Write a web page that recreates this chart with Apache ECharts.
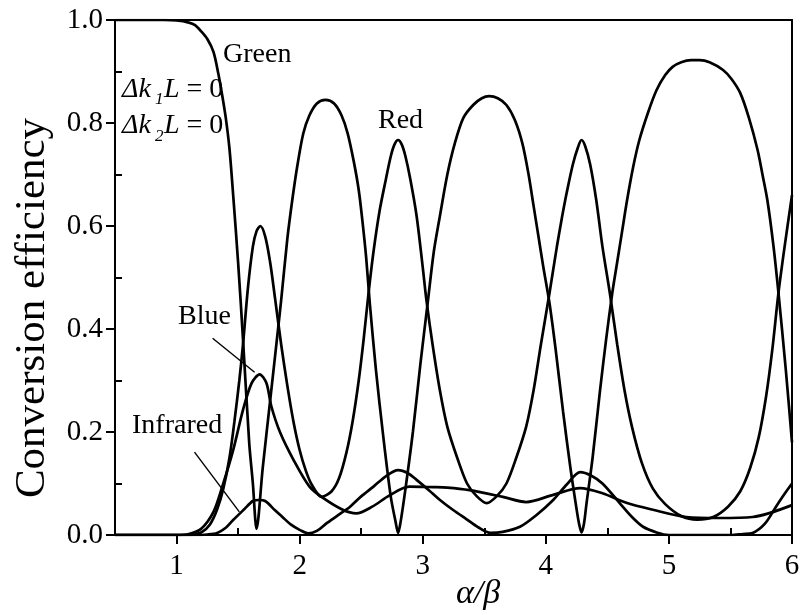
<!DOCTYPE html>
<html>
<head>
<meta charset="utf-8">
<script src="https://cdn.jsdelivr.net/npm/echarts@6/dist/echarts.min.js"></script>
<style>html,body{margin:0;padding:0;background:#fff}#c{width:801px;height:615px}</style>
</head>
<body>
<div id="c"></div>
<script>
// ---- data ----
var greenX = [0.5,0.9,1.0,1.1,1.15,1.2,1.25,1.3,1.34,1.37,1.4,1.43,1.46,1.5,1.54,1.59,1.62,1.65,1.7,1.76,1.82,1.85,1.9,1.94,1.98,2.03,2.08,2.14,2.21,2.28,2.34,2.39,2.44,2.48,2.51,2.54,2.57,2.62,2.68,2.74,2.78,2.8,2.82,2.86,2.92,2.98,3.04,3.09,3.14,3.2,3.26,3.33,3.41,3.48,3.54,3.61,3.68,3.75,3.81,3.86,3.9,3.94,3.98,4.03,4.08,4.14,4.2,4.25,4.27,4.29,4.31,4.33,4.38,4.44,4.49,4.54,4.58,4.62,4.66,4.71,4.76,4.83,4.9,4.97,5.03,5.1,5.18,5.25,5.33,5.44,5.51,5.58,5.65,5.72,5.76,5.8,5.85,5.89,5.95,6.0];
var greenY = [1.0,1.0,0.999,0.995,0.99,0.978,0.963,0.938,0.895,0.855,0.81,0.75,0.66,0.53,0.38,0.18,0.1,0.012,0.13,0.26,0.39,0.456,0.575,0.65,0.715,0.78,0.815,0.838,0.845,0.838,0.815,0.78,0.725,0.67,0.61,0.54,0.45,0.32,0.19,0.075,0.025,0.004,0.025,0.09,0.2,0.33,0.45,0.55,0.62,0.7,0.76,0.81,0.835,0.848,0.852,0.848,0.835,0.805,0.76,0.7,0.64,0.58,0.52,0.45,0.36,0.24,0.13,0.05,0.022,0.005,0.022,0.06,0.15,0.28,0.38,0.47,0.53,0.59,0.65,0.715,0.767,0.82,0.864,0.893,0.909,0.918,0.922,0.922,0.918,0.903,0.885,0.858,0.81,0.748,0.7,0.65,0.56,0.47,0.32,0.18];

var redX = [0.5,1.1,1.2,1.27,1.33,1.38,1.43,1.47,1.51,1.54,1.58,1.62,1.65,1.68,1.72,1.76,1.8,1.85,1.9,1.95,2.0,2.05,2.1,2.18,2.26,2.32,2.38,2.43,2.48,2.52,2.56,2.6,2.65,2.7,2.74,2.77,2.8,2.83,2.86,2.9,2.95,3.0,3.03,3.08,3.14,3.2,3.28,3.36,3.44,3.52,3.6,3.68,3.76,3.84,3.9,3.96,4.03,4.09,4.13,4.17,4.22,4.26,4.29,4.32,4.36,4.41,4.46,4.52,4.58,4.64,4.7,4.78,4.87,4.97,5.1,5.23,5.36,5.48,5.58,5.66,5.73,5.79,5.84,5.89,5.94,6.0];
var redY = [0,0,0.005,0.02,0.05,0.09,0.15,0.22,0.3,0.37,0.48,0.56,0.59,0.6,0.58,0.53,0.46,0.37,0.29,0.22,0.165,0.125,0.097,0.074,0.085,0.11,0.16,0.22,0.3,0.38,0.47,0.55,0.63,0.69,0.735,0.758,0.767,0.758,0.735,0.69,0.62,0.52,0.456,0.37,0.28,0.21,0.15,0.1,0.075,0.062,0.075,0.1,0.15,0.21,0.28,0.37,0.47,0.56,0.615,0.665,0.72,0.752,0.767,0.755,0.72,0.65,0.56,0.47,0.37,0.28,0.21,0.14,0.09,0.06,0.037,0.03,0.035,0.055,0.085,0.13,0.19,0.27,0.36,0.47,0.56,0.66];

var blueX = [0.5,1.0,1.1,1.2,1.3,1.37,1.46,1.54,1.61,1.675,1.73,1.77,1.84,1.95,2.08,2.19,2.35,2.46,2.59,2.73,2.89,3.08,3.2,3.38,3.65,3.84,4.06,4.28,4.46,4.66,4.87,5.14,5.41,5.68,6.0];
var blueY = [0,0,0.002,0.012,0.045,0.093,0.165,0.243,0.295,0.312,0.295,0.25,0.2,0.146,0.094,0.072,0.049,0.042,0.055,0.077,0.094,0.093,0.092,0.087,0.074,0.064,0.078,0.091,0.081,0.062,0.049,0.035,0.033,0.035,0.058];

var infraX = [0.5,1.15,1.25,1.33,1.4,1.46,1.55,1.62,1.67,1.72,1.8,1.86,1.93,2.0,2.07,2.14,2.22,2.31,2.41,2.5,2.6,2.7,2.8,2.88,2.95,3.05,3.14,3.25,3.36,3.45,3.55,3.65,3.79,3.92,4.06,4.17,4.28,4.37,4.46,4.6,4.7,4.79,4.9,5.0,5.5,5.6,5.68,5.78,5.87,5.94,6.0];
var infraY = [0,0,0.001,0.004,0.014,0.029,0.05,0.066,0.068,0.066,0.048,0.035,0.02,0.01,0.003,0.008,0.023,0.038,0.055,0.075,0.094,0.114,0.126,0.12,0.107,0.087,0.068,0.048,0.03,0.015,0.004,0.006,0.016,0.038,0.068,0.098,0.122,0.115,0.1,0.062,0.035,0.016,0.005,0,0,0.002,0.004,0.022,0.055,0.08,0.1];

var xTickLabels = [1,2,3,4,5,6];
var xMinorTicks = [1.5,2.5,3.5,4.5,5.5];
var yTickLabels = [0,0.2,0.4,0.6,0.8,1.0];
var yMinorTicks = [0.1,0.3,0.5,0.7,0.9];

var blueArrow = [[1.634,0.316],[1.293,0.382]];
var infraArrow = [[1.51,0.045],[1.146,0.161]];

// ---- chart ----
var SERIF = '"Liberation Serif","DejaVu Serif",serif';
function pairs(xs, ys){ return xs.map(function(x,i){ return [x, ys[i]]; }); }

var chart = echarts.init(document.getElementById('c'), null, {renderer:'canvas'});
var lineBase = {type:'line', showSymbol:false, symbol:'none', smooth:0.3, clip:true,
  lineStyle:{color:'#000', width:2.7}, xAxisIndex:0, yAxisIndex:0, silent:true};

function arrowLine(a){
  return [{coord:a[0], symbol:'none'}, {coord:a[1], symbol:'arrow'}];
}
function txt(x, y, s, font){
  return {type:'text', x:x, y:y, style:{text:s, font:font, fill:'#000', align:'left', verticalAlign:'middle'}};
}

var option = {
  animation:false,
  backgroundColor:'#fff',
  grid:{left:115, right:9, top:20, bottom:80, containLabel:false, outerBoundsMode:'none'},
  xAxis:[
    {type:'value', min:0.5, max:6, position:'bottom',
     axisLine:{show:true, onZero:false, lineStyle:{color:'#000', width:2}},
     axisTick:{show:true, inside:false, length:9, customValues:xTickLabels, lineStyle:{color:'#000', width:2}},
     axisLabel:{show:true, customValues:xTickLabels, fontFamily:SERIF, fontSize:29, color:'#000', margin:17},
     splitLine:{show:false}},
    {type:'value', min:0.5, max:6, position:'bottom',
     axisLine:{show:false},
     axisTick:{show:true, inside:true, length:7, customValues:xMinorTicks, lineStyle:{color:'#000', width:2}},
     axisLabel:{show:false}, splitLine:{show:false}},
    {type:'value', min:0.5, max:6, position:'top',
     axisLine:{show:true, onZero:false, lineStyle:{color:'#000', width:2}},
     axisTick:{show:false}, axisLabel:{show:false}, splitLine:{show:false}}
  ],
  yAxis:[
    {type:'value', min:0, max:1, position:'left',
     axisLine:{show:true, onZero:false, lineStyle:{color:'#000', width:2}},
     axisTick:{show:true, inside:false, length:9, customValues:yTickLabels, lineStyle:{color:'#000', width:2}},
     axisLabel:{show:true, customValues:yTickLabels, fontFamily:SERIF, fontSize:29, color:'#000', margin:12,
       formatter:function(v){ return Number(v).toFixed(1); }},
     splitLine:{show:false}},
    {type:'value', min:0, max:1, position:'left',
     axisLine:{show:false},
     axisTick:{show:true, inside:true, length:7, customValues:yMinorTicks, lineStyle:{color:'#000', width:2}},
     axisLabel:{show:false}, splitLine:{show:false}},
    {type:'value', min:0, max:1, position:'right',
     axisLine:{show:true, onZero:false, lineStyle:{color:'#000', width:2}},
     axisTick:{show:false}, axisLabel:{show:false}, splitLine:{show:false}}
  ],
  series:[
    Object.assign({}, lineBase, {name:'Green', data:pairs(greenX, greenY)}),
    Object.assign({}, lineBase, {name:'Red', data:pairs(redX, redY)}),
    Object.assign({}, lineBase, {name:'Blue', data:pairs(blueX, blueY),
      markLine:{silent:true, symbolSize:[0,11], animation:false,
        lineStyle:{color:'#000', width:1.4, type:'solid'}, label:{show:false},
        data:[arrowLine(blueArrow), arrowLine(infraArrow)]}}),
    Object.assign({}, lineBase, {name:'Infrared', data:pairs(infraX, infraY)})
  ],
  graphic:[
    {type:'text', x:33, y:308, rotation:Math.PI/2,
     style:{text:'Conversion efficiency', font:'43px '+SERIF, fill:'#000', align:'center', verticalAlign:'middle'}},
    {type:'text', x:478, y:594,
     style:{text:'α/β', font:'italic 34px '+SERIF, fill:'#000', align:'center', verticalAlign:'middle'}},
    txt(223, 55, 'Green', '28px '+SERIF),
    txt(378, 121, 'Red', '28px '+SERIF),
    txt(178, 317, 'Blue', '28px '+SERIF),
    txt(132, 426, 'Infrared', '28px '+SERIF),
    txt(122, 90, 'Δk', 'italic 28px '+SERIF),
    txt(155, 100, '1', 'italic 17px '+SERIF),
    {type:'text', x:164, y:90, style:{text:'{i|L} = 0', font:'28px '+SERIF, fill:'#000', align:'left', verticalAlign:'middle',
      rich:{i:{fontStyle:'italic', fontSize:28, fontFamily:SERIF}}}},
    txt(122, 126, 'Δk', 'italic 28px '+SERIF),
    txt(155, 137, '2', 'italic 17px '+SERIF),
    {type:'text', x:164, y:126, style:{text:'{i|L} = 0', font:'28px '+SERIF, fill:'#000', align:'left', verticalAlign:'middle',
      rich:{i:{fontStyle:'italic', fontSize:28, fontFamily:SERIF}}}}
  ]
};
chart.setOption(option);
</script>
</body>
</html>
